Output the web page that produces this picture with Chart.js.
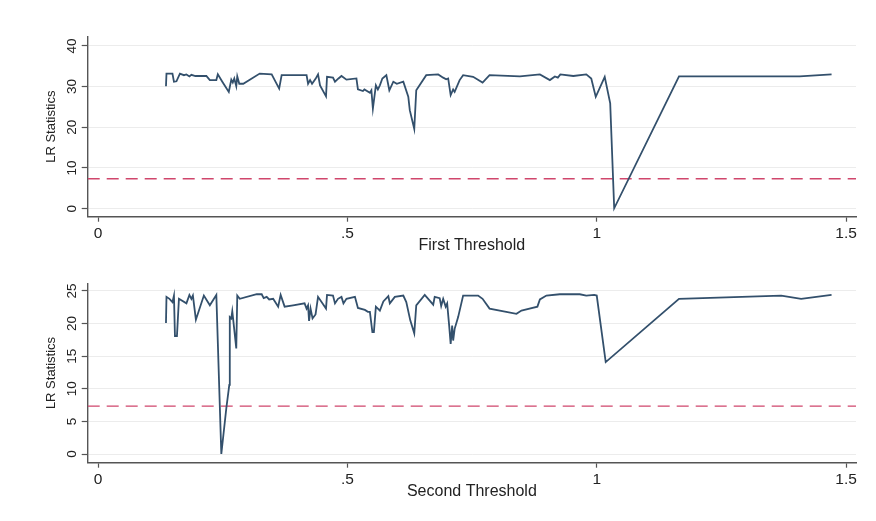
<!DOCTYPE html>
<html>
<head>
<meta charset="utf-8">
<script src="https://cdn.jsdelivr.net/npm/chart.js@4.4.1/dist/chart.umd.min.js"></script>
<style>
  body { margin: 0; background: #fff; }
  .panel { position: absolute; left: 0; width: 876px; }
  #top { top: 0; height: 260px; }
  #bottom { top: 260px; height: 261px; }
</style>
</head>
<body>
<div class="panel" id="top"><canvas id="firstChart" width="876" height="260"></canvas></div>
<div class="panel" id="bottom"><canvas id="secondChart" width="876" height="261"></canvas></div>
<script>
'use strict';
// threshold grid (x) and LR statistic (y)
let firstX = [0.136, 0.137, 0.149, 0.152, 0.157, 0.164, 0.172, 0.177, 0.183, 0.187, 0.195, 0.217, 0.224, 0.237, 0.240, 0.249, 0.262, 0.267, 0.270, 0.273, 0.277, 0.279, 0.283, 0.291, 0.324, 0.348, 0.363, 0.368, 0.418, 0.421, 0.425, 0.429, 0.436, 0.441, 0.445, 0.457, 0.459, 0.471, 0.475, 0.482, 0.488, 0.498, 0.518, 0.521, 0.531, 0.534, 0.545, 0.548, 0.551, 0.557, 0.561, 0.565, 0.570, 0.578, 0.584, 0.592, 0.599, 0.612, 0.622, 0.625, 0.634, 0.638, 0.658, 0.682, 0.692, 0.698, 0.702, 0.707, 0.712, 0.715, 0.725, 0.732, 0.752, 0.771, 0.785, 0.846, 0.886, 0.906, 0.916, 0.922, 0.927, 0.953, 0.979, 0.989, 0.998, 1.016, 1.027, 1.035, 1.165, 1.407, 1.471];
let firstLR = [30.1, 33.2, 33.2, 31.2, 31.3, 33.2, 32.8, 33.0, 32.5, 32.9, 32.6, 32.6, 31.6, 31.6, 33.0, 31.2, 28.7, 31.7, 31.0, 32.0, 30.1, 32.5, 30.7, 30.7, 33.2, 33.0, 29.5, 32.8, 32.8, 30.7, 31.6, 30.7, 31.9, 33.0, 30.3, 27.6, 32.4, 32.2, 31.2, 32.0, 32.6, 31.7, 32.0, 29.3, 28.9, 29.3, 28.5, 29.1, 24.6, 30.3, 29.3, 30.3, 32.0, 32.8, 29.1, 31.2, 30.7, 31.2, 27.5, 24.2, 19.6, 29.1, 32.8, 33.0, 32.2, 31.8, 32.0, 27.9, 29.3, 28.7, 31.6, 32.8, 32.4, 31.0, 32.8, 32.5, 33.0, 31.6, 32.5, 32.2, 33.0, 32.6, 33.0, 32.0, 27.5, 32.4, 25.9, 0.1, 32.5, 32.5, 33.0];

let secondX = [0.136, 0.137, 0.143, 0.149, 0.152, 0.154, 0.158, 0.162, 0.177, 0.183, 0.187, 0.190, 0.196, 0.212, 0.224, 0.237, 0.247, 0.257, 0.263, 0.264, 0.267, 0.269, 0.271, 0.277, 0.279, 0.284, 0.318, 0.328, 0.332, 0.338, 0.343, 0.351, 0.361, 0.366, 0.374, 0.391, 0.414, 0.418, 0.421, 0.423, 0.426, 0.430, 0.436, 0.441, 0.457, 0.459, 0.471, 0.475, 0.481, 0.488, 0.492, 0.498, 0.515, 0.521, 0.535, 0.541, 0.545, 0.550, 0.553, 0.557, 0.561, 0.565, 0.572, 0.582, 0.585, 0.595, 0.612, 0.618, 0.626, 0.634, 0.638, 0.655, 0.672, 0.675, 0.685, 0.688, 0.692, 0.697, 0.700, 0.704, 0.707, 0.710, 0.712, 0.715, 0.722, 0.732, 0.762, 0.771, 0.785, 0.839, 0.849, 0.881, 0.886, 0.899, 0.926, 0.966, 0.979, 0.995, 1.000, 1.018, 1.165, 1.370, 1.410, 1.471];
let secondLR = [20.1, 24.1, 23.8, 23.3, 24.3, 18.1, 18.1, 23.8, 23.1, 24.4, 23.8, 24.3, 20.6, 24.3, 22.8, 24.4, 0.0, 7.0, 10.6, 21.0, 20.8, 21.9, 20.5, 16.2, 24.3, 23.8, 24.5, 24.5, 23.9, 24.1, 23.7, 23.8, 22.6, 24.4, 22.6, 22.8, 23.1, 22.3, 22.8, 20.4, 22.3, 20.8, 21.4, 24.1, 22.3, 24.4, 24.3, 23.1, 23.8, 24.1, 23.1, 23.8, 24.1, 22.4, 22.1, 21.8, 21.8, 18.7, 18.7, 22.6, 22.3, 22.0, 23.4, 24.2, 23.1, 24.1, 24.3, 23.3, 20.5, 18.5, 22.8, 24.4, 22.9, 24.1, 23.9, 22.7, 23.8, 22.6, 23.1, 19.7, 16.9, 19.7, 17.4, 19.2, 21.0, 24.3, 24.3, 23.8, 22.3, 21.5, 22.0, 22.6, 23.7, 24.3, 24.5, 24.5, 24.3, 24.4, 24.3, 14.1, 23.8, 24.3, 23.8, 24.4];

let critValue = 7.35;
let xTicks = [0, 0.5, 1, 1.5];
let xTickLabels = ['0', '.5', '1', '1.5'];
let firstYTicks = [0, 10, 20, 30, 40];
let secondYTicks = [0, 5, 10, 15, 20, 25];
let xMin = -0.021;
let xMax = 1.52;

let font = "'Liberation Sans', Arial, sans-serif";
let textColor = '#222';
let axisColor = '#555';

function toPoints(xs, ys) {
    let pts = [];
    for (let i = 0; i < xs.length; i++) {
        pts.push({ x: xs[i], y: ys[i] });
    }
    return pts;
}

function makeChart(id, xs, ys, opt) {
    let ctx = document.getElementById(id).getContext('2d');
    return new Chart(ctx, {
        type: 'scatter',
        data: {
            datasets: [{
                data: toPoints(xs, ys),
                showLine: true,
                borderColor: '#33506c',
                borderWidth: 1.8,
                pointRadius: 0,
                tension: 0
            }, {
                data: [{ x: xMin, y: critValue }, { x: xMax, y: critValue }],
                showLine: true,
                borderColor: '#d0466c',
                borderWidth: 1.4,
                borderDash: [12, 7],
                pointRadius: 0
            }]
        },
        options: {
            responsive: false,
            animation: false,
            layout: { padding: { top: opt.padTop, right: 20, left: 0, bottom: 0 } },
            plugins: { legend: { display: false }, tooltip: { enabled: false } },
            scales: {
                x: {
                    type: 'linear',
                    min: xMin,
                    max: xMax,
                    afterBuildTicks: (scale) => { scale.ticks = xTicks.map(v => ({ value: v })); },
                    afterFit: (scale) => { scale.height = opt.xHeight; },
                    grid: { drawOnChartArea: false, tickLength: 5, tickColor: axisColor, tickWidth: 1.2 },
                    border: { color: axisColor, width: 1.4 },
                    ticks: {
                        autoSkip: false,
                        maxRotation: 0,
                        padding: 3,
                        color: textColor,
                        font: { family: font, size: 15.5 },
                        callback: (v) => xTickLabels[xTicks.indexOf(v)]
                    },
                    title: {
                        display: true,
                        text: opt.title,
                        color: textColor,
                        font: { family: font, size: 16 },
                        padding: { top: 0, bottom: opt.titlePad }
                    }
                },
                y: {
                    min: opt.yMin,
                    max: opt.yMax,
                    afterBuildTicks: (scale) => { scale.ticks = opt.yTicks.map(v => ({ value: v })); },
                    afterFit: (scale) => { scale.width = 87.7; },
                    grid: { color: '#ececec', lineWidth: 1, tickLength: 6, tickColor: axisColor, tickWidth: 1.2 },
                    border: { color: axisColor, width: 1.4 },
                    ticks: {
                        autoSkip: false,
                        minRotation: 90,
                        maxRotation: 90,
                        crossAlign: 'center',
                        padding: 2,
                        color: textColor,
                        font: { family: font, size: 13.5 }
                    },
                    title: {
                        display: true,
                        text: 'LR Statistics',
                        color: textColor,
                        font: { family: font, size: 13 },
                        padding: { top: 44, bottom: 0 }
                    }
                }
            }
        }
    });
}

makeChart('firstChart', firstX, firstLR, {
    title: 'First Threshold', yTicks: firstYTicks, yMin: -1.97, yMax: 42.26,
    padTop: 36.7, xHeight: 43.3, titlePad: 4.4
});
makeChart('secondChart', secondX, secondLR, {
    title: 'Second Threshold', yTicks: secondYTicks, yMin: -1.33, yMax: 26.18,
    padTop: 23.3, xHeight: 58.3, titlePad: 19.4
});
</script>
</body>
</html>
